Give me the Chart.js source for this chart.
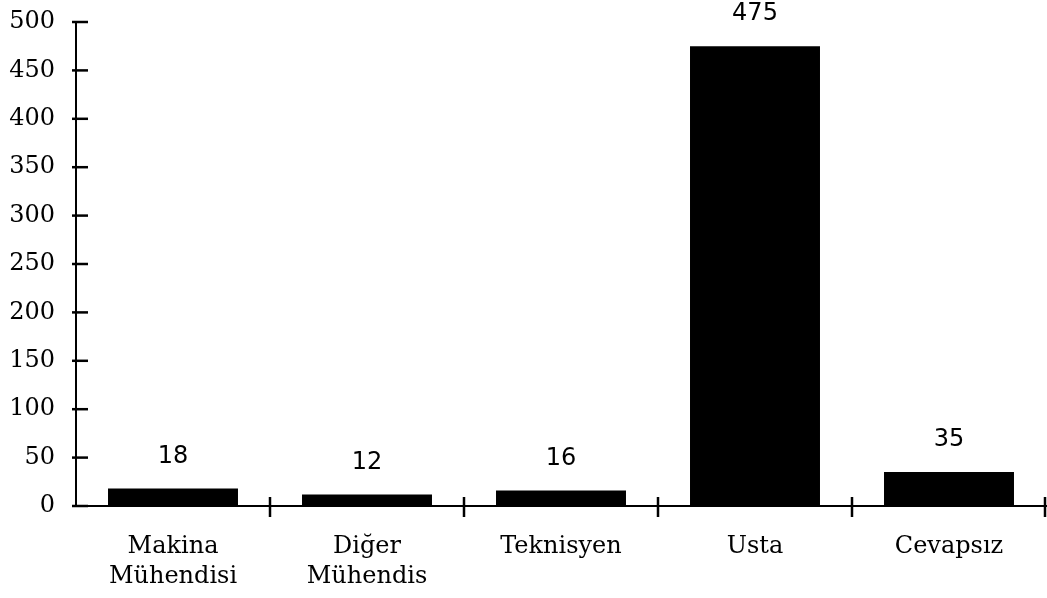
<!DOCTYPE html>
<html>
<head>
<meta charset="utf-8">
<script src="https://cdn.jsdelivr.net/npm/chart.js@4"></script>
<style>
  html, body { margin: 0; padding: 0; background: #fff; }
  #wrap { width: 1047px; height: 598px; }
</style>
</head>
<body>
<div id="wrap"><canvas id="myChart"></canvas></div>
<script>
// Kategoriler ve değerler
const categories = [['Makina', 'Mühendisi'], ['Diğer', 'Mühendis'], 'Teknisyen', 'Usta', 'Cevapsız'];
const values = [18, 12, 16, 475, 35];
const yTicks = [0, 50, 100, 150, 200, 250, 300, 350, 400, 450, 500];

// Eksenleri kesen tik işaretleri ve değer etiketleri
const crossTicks = {
  id: 'crossTicks',
  afterDraw(chart) {
    const ctx = chart.ctx;
    const x = chart.scales.x, y = chart.scales.y;
    const area = chart.chartArea;
    ctx.save();
    ctx.strokeStyle = '#000';
    ctx.lineWidth = 2.5;
    // y ekseni tikleri
    yTicks.forEach(v => {
      const py = y.getPixelForValue(v);
      ctx.beginPath();
      ctx.moveTo(area.left - 4, py);
      ctx.lineTo(area.left + 12, py);
      ctx.stroke();
    });
    // x ekseni tikleri (kategori sınırları)
    for (let i = 0; i < categories.length; i++) {
      let px;
      if (i < categories.length - 1) {
        px = (x.getPixelForTick(i) + x.getPixelForTick(i + 1)) / 2;
      } else {
        px = area.right - 1;
      }
      ctx.beginPath();
      ctx.moveTo(px, area.bottom - 9);
      ctx.lineTo(px, area.bottom + 11);
      ctx.stroke();
    }
    // değer etiketleri
    ctx.fillStyle = '#000';
    ctx.font = '24px "DejaVu Sans", sans-serif';
    ctx.textAlign = 'center';
    ctx.textBaseline = 'middle';
    chart.getDatasetMeta(0).data.forEach((bar, i) => {
      ctx.fillText(String(values[i]), bar.x, bar.y - 32);
    });
    ctx.restore();
  }
};

const ctx = document.getElementById('myChart').getContext('2d');
const myChart = new Chart(ctx, {
  type: 'bar',
  data: {
    labels: categories,
    datasets: [{
      data: values,
      backgroundColor: '#000',
      borderWidth: 0,
      barPercentage: 0.67,
      categoryPercentage: 1.0,
    }]
  },
  options: {
    responsive: true,
    maintainAspectRatio: false,
    animation: false,
    layout: { padding: { left: 4, right: 1, top: 22, bottom: 0 } },
    plugins: {
      legend: { display: false },
      tooltip: { enabled: false },
    },
    scales: {
      x: {
        grid: { display: false, drawTicks: false },
        border: { display: true, color: '#000', width: 2 },
        afterFit: axis => { axis.height = 92; },
        ticks: {
          color: '#000',
          font: { family: '"DejaVu Serif", serif', size: 24, lineHeight: 1.25 },
          padding: 26,
          maxRotation: 0,
          autoSkip: false,
        },
      },
      y: {
        min: 0,
        max: 500,
        grid: { display: false, drawTicks: false },
        border: { display: true, color: '#000', width: 2 },
        afterFit: axis => { axis.width = 72; axis.paddingTop = 0; axis.paddingBottom = 0; },
        afterBuildTicks: axis => { axis.ticks = yTicks.map(v => ({ value: v })); },
        ticks: {
          color: '#000',
          font: { family: '"DejaVu Serif", serif', size: 24 },
          padding: 21,
        },
      }
    }
  },
  plugins: [crossTicks]
});
</script>
</body>
</html>
